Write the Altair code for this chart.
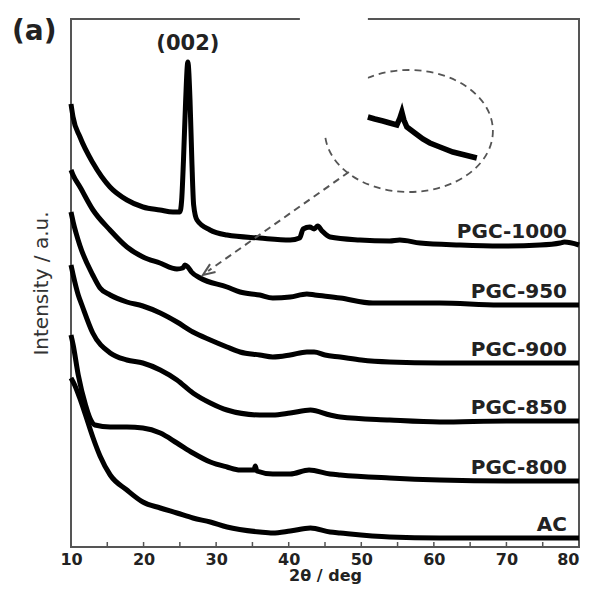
import altair as alt
import pandas as pd

# ---------------- data ----------------
names = ["PGC-1000", "PGC-950", "PGC-900", "PGC-850", "PGC-800", "AC"]

x_1000 = [10.0, 10.28, 11.24, 13.03, 15.37, 17.71, 19.92, 22.26, 24.05, 25.0, 25.25, 25.5, 25.8, 26.1,
          26.4, 26.65, 26.9, 27.36, 29.15, 31.5, 36.0, 40.2, 41.5, 42.0, 42.9, 43.5, 44.0, 44.6, 45.7,
          49.8, 53.9, 55.3, 58.1, 63.6, 69.1, 74.6, 77.4, 78.0, 80.0]
y_1000 = [443, 430, 410, 384, 360, 347, 340, 337, 335, 335, 347, 387, 447, 485,
          447, 387, 342, 327, 317, 312, 309, 307, 309, 318, 320, 318, 321, 316, 310,
          307, 306, 307, 304, 302, 301, 302, 304, 305, 302]

x_950 = [10.0, 10.28, 11.24, 13.03, 15.37, 17.71, 19.92, 22.26, 24.6, 25.4, 25.7, 26.1, 26.6, 27.8,
         31.5, 33.3, 36.0, 37.8, 40.2, 42.5, 43.6, 47.1, 51.6, 60.8, 69.0, 80.0]
y_950 = [377, 372, 360, 337, 317, 300, 290, 284, 278, 279, 282, 280, 275, 269,
         260, 255, 252, 249, 250, 253, 252, 249, 244, 244, 242, 242]

x_900 = [10.0, 10.3, 11.2, 13.0, 14.0, 15.4, 17.7, 19.9, 22.3, 24.6, 26.8, 29.2, 31.5, 33.3, 36.0,
         37.8, 40.2, 42.5, 43.5, 45.0, 47.1, 50.0, 53.9, 60.8, 70.0, 80.0]
y_900 = [335, 325, 302, 272, 259, 252, 245, 241, 234, 225, 215, 207, 200, 195, 192,
         190, 192, 195, 195, 192, 190, 187, 185, 184, 184, 184]

x_850 = [10.0, 10.3, 11.0, 11.5, 13.0, 15.4, 17.7, 19.9, 22.3, 24.6, 26.8, 29.2, 31.5, 36.0, 37.8,
         40.2, 43.0, 45.7, 47.1, 53.9, 60.8, 70.0, 80.0]
y_850 = [282, 272, 252, 242, 214, 194, 187, 184, 177, 167, 154, 144, 137, 132, 132,
         134, 137, 132, 130, 127, 125, 126, 126]

x_800 = [10.0, 10.3, 11.0, 12.0, 12.6, 13.3, 15.4, 17.7, 19.9, 22.3, 24.6, 26.8, 29.2, 31.5, 33.3,
         35.2, 35.4, 35.6, 37.8, 40.2, 42.8, 45.7, 47.1, 53.9, 60.8, 70.0, 80.0]
y_800 = [212, 202, 172, 142, 129, 122, 120, 120, 119, 114, 104, 94, 85, 80, 77,
         77, 81, 76, 73, 73, 77, 73, 72, 69, 67, 66, 66]

x_ac = [10.0, 10.5, 11.2, 12.0, 13.0, 14.0, 15.4, 17.7, 19.9, 22.3, 24.6, 26.8, 29.2, 31.5, 36.0,
        37.8, 40.2, 43.0, 45.7, 47.1, 53.9, 60.8, 70.0, 80.0]
y_ac = [169, 162, 149, 132, 110, 91, 72, 57, 45, 39, 34, 29, 25, 20, 15,
        14, 16, 19, 15, 14, 10, 9, 9, 9]

# magnified inset of the PGC-950 bump near 26 deg
x_inset = [50.91, 51.87, 52.98, 53.94, 54.90, 55.32, 55.59, 55.87, 56.28, 57.38, 58.48, 59.45,
           60.83, 62.62, 64.27, 65.92]
y_inset = [430, 428, 426, 424, 422, 429, 435, 427, 420, 414, 408, 404, 400, 395, 392, 389]

x_labels = [10, 20, 30, 40, 50, 60, 70, 80]
x_ticks = [10, 15, 20, 25, 30, 35, 40, 45, 50, 55, 60, 65, 70, 75, 80]

# annotation geometry (data coordinates)
ellipse_center = {"x": [56.56], "y": [416]}
arrow_line = {"x": [48.29], "y": [375], "x2": [28.9], "y2": [276]}
arrow_head = {"x": [28.86], "y": [275.5]}
mask_box = {"x": [41.54], "x2": [50.91], "y": [410], "y2": [531]}

# ---------------- build tables ----------------
xs_list = [x_1000, x_950, x_900, x_850, x_800, x_ac]
ys_list = [y_1000, y_950, y_900, y_850, y_800, y_ac]
curves = pd.concat(
    [pd.DataFrame({"x": xs, "y": ys, "series": n}) for n, xs, ys in zip(names, xs_list, ys_list)],
    ignore_index=True,
)
ends = pd.DataFrame({"series": names, "y": [ys[-1] for ys in ys_list]})
peak_i = max(range(len(y_1000)), key=lambda i: y_1000[i])
peak = pd.DataFrame({"x": [x_1000[peak_i]], "y": [y_1000[peak_i]], "t": ["(002)"]})
inset = pd.DataFrame({"x": x_inset, "y": y_inset})
ticks = pd.DataFrame({"x": x_ticks})

FONT = "DejaVu Sans"
xscale = alt.Scale(domain=[10, 80], nice=False, zero=False)
yscale = alt.Scale(domain=[0, 528], nice=False, zero=False)
xaxis = alt.Axis(
    values=x_labels, ticks=False, domain=False, grid=False, labelFont=FONT,
    labelFontSize=16, labelFontWeight="bold", labelColor="#222", labelPadding=4,
    labelAlign={"expr": "datum.value == 80 ? 'right' : 'center'"},
    titleFont=FONT, titleFontSize=16, titleFontWeight="bold", titleColor="#222", titlePadding=0,
)
yaxis = alt.Axis(
    labels=False, ticks=False, domain=False, grid=False, titleFont=FONT, titleFontSize=20,
    titleFontWeight="normal", titleColor="#333", titlePadding=20,
)


def X(f="x"):
    return alt.X(f"{f}:Q", scale=xscale, axis=xaxis, title="2θ / deg")


def Y(f="y"):
    return alt.Y(f"{f}:Q", scale=yscale, axis=yaxis, title="Intensity / a.u.")


lines = alt.Chart(curves).mark_line(color="black", strokeWidth=5, interpolate="monotone").encode(
    x=X(), y=Y(), detail="series:N"
)

ell_path = ("M -1 0 C -1 -0.401 -0.552 -0.726 0 -0.726 C 0.552 -0.726 1 -0.401 1 0 "
            "C 1 0.401 0.552 0.726 0 0.726 C -0.552 0.726 -1 0.401 -1 0 Z")
ellipse = alt.Chart(pd.DataFrame(ellipse_center)).mark_point(
    shape=ell_path, size=28224, filled=False, stroke="#555", strokeWidth=1.8,
    strokeDash=[7, 5], opacity=1,
).encode(x=X(), y=Y())

mask = alt.Chart(pd.DataFrame(mask_box)).mark_rect(color="white").encode(
    x=X(), x2="x2:Q", y=Y(), y2="y2:Q"
)

inset_line = alt.Chart(inset).mark_line(color="black", strokeWidth=5.5, interpolate="linear").encode(
    x=X(), y=Y()
)

arrow = alt.Chart(pd.DataFrame(arrow_line)).mark_rule(
    color="#555", strokeWidth=2, strokeDash=[7, 5]
).encode(x=X(), y=Y(), x2="x2:Q", y2="y2:Q")

head = alt.Chart(pd.DataFrame(arrow_head)).mark_point(
    shape="M -1 -0.8 L 1 0 L -1 0.8", size=144, filled=False, stroke="#555",
    strokeWidth=2, angle=145, opacity=1,
).encode(x=X(), y=Y())

labels = alt.Chart(ends).mark_text(
    align="right", baseline="alphabetic", dy=-7, font=FONT, fontSize=20,
    fontWeight="bold", color="#222",
).encode(x=alt.value(496), y=Y(), text="series:N")

peak_label = alt.Chart(peak).mark_text(
    align="center", baseline="alphabetic", dy=-12, font=FONT, fontSize=21,
    fontWeight="bold", color="#222",
).encode(x=X(), y=Y(), text="t:N")

tick_marks = alt.Chart(ticks).mark_rule(color="#555", strokeWidth=1.5).encode(
    x=X(), y=alt.value(528), y2=alt.value(523)
)

panel = alt.Chart(pd.DataFrame({"t": ["(a)"]})).mark_text(
    align="left", baseline="alphabetic", font=FONT, fontSize=28, fontWeight="bold", color="#222"
).encode(x=alt.value(-59), y=alt.value(21), text="t:N")

chart = alt.layer(
    lines, ellipse, mask, inset_line, arrow, head, labels, peak_label, tick_marks, panel
).properties(
    width=508, height=528,
    background="white",
    autosize=alt.AutoSizeParams(type="none"),
    padding={"left": 63, "top": 11, "right": 5, "bottom": 37},
).configure_view(stroke="#555", strokeWidth=2)

chart.save("out.html", embed_options={"renderer": "svg", "actions": False})
